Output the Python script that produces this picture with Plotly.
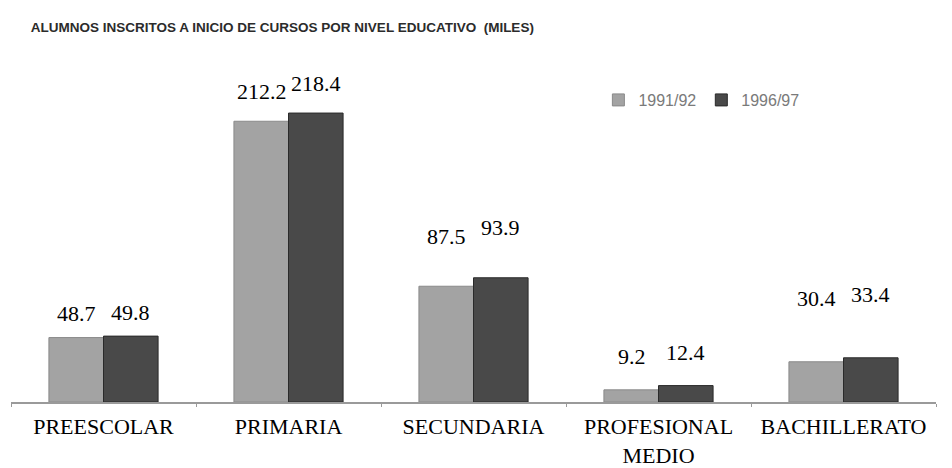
import plotly.graph_objects as go

# categories and values (thousands of students)
niveles = ["PREESCOLAR", "PRIMARIA", "SECUNDARIA", "PROFESIONAL<br>MEDIO", "BACHILLERATO"]
alumnos_1991 = [48.7, 212.2, 87.5, 9.2, 30.4]
alumnos_1996 = [49.8, 218.4, 93.9, 12.4, 33.4]
series_names = ["1991/92", "1996/97"]

# how far each pair of value labels floats above its bars (px)
label_lift = [24, 30, 50, 33, 63]

fig = go.Figure()
fig.add_trace(go.Bar(x=niveles, y=alumnos_1991, name=series_names[0],
                     marker=dict(color="#a3a3a3", line=dict(color="#8a8a8a", width=1))))
fig.add_trace(go.Bar(x=niveles, y=alumnos_1996, name=series_names[1],
                     marker=dict(color="#494949", line=dict(color="#2a2a2a", width=1))))

annots = []
for i, cat in enumerate(niveles):
    for val, dx in ((alumnos_1991[i], -27), (alumnos_1996[i], 27)):
        annots.append(dict(x=cat, y=val, xref="x", yref="y", text=f"{val:.1f}",
                           showarrow=False, xshift=dx, yshift=label_lift[i],
                           font=dict(family="Liberation Serif, Times New Roman", size=22, color="#000")))

# the page body adds an 8px offset, so the margins are shifted accordingly
fig.update_layout(
    width=952, height=468,
    margin=dict(l=3, r=24, t=52, b=74),
    paper_bgcolor="white", plot_bgcolor="white",
    barmode="group", bargap=0.41, bargroupgap=0,
    title=dict(text="<b>ALUMNOS INSCRITOS A INICIO DE CURSOS POR NIVEL EDUCATIVO  (MILES)</b>",
               x=0.024, xanchor="left", y=0.959, yanchor="middle",
               font=dict(family="Liberation Sans, Arial", size=13.5, color="#2b2b2b")),
    legend=dict(orientation="h", x=0.635, y=0.883, xanchor="left", yanchor="middle",
                font=dict(family="Liberation Sans, Arial", size=16, color="#7a7a7a"),
                itemwidth=30, traceorder="normal", bgcolor="rgba(0,0,0,0)"),
    annotations=annots,
    showlegend=True,
)
fig.update_xaxes(showline=True, linecolor="#9a9a9a", linewidth=2,
                 ticks="outside", tickson="boundaries", ticklen=3, tickcolor="#9a9a9a",
                 ticklabelstandoff=4,
                 tickfont=dict(family="Liberation Serif, Times New Roman", size=22, color="#000"),
                 showgrid=False)
fig.update_yaxes(range=[0, 258.5], visible=False, showgrid=False)

fig.write_html("out.html")
